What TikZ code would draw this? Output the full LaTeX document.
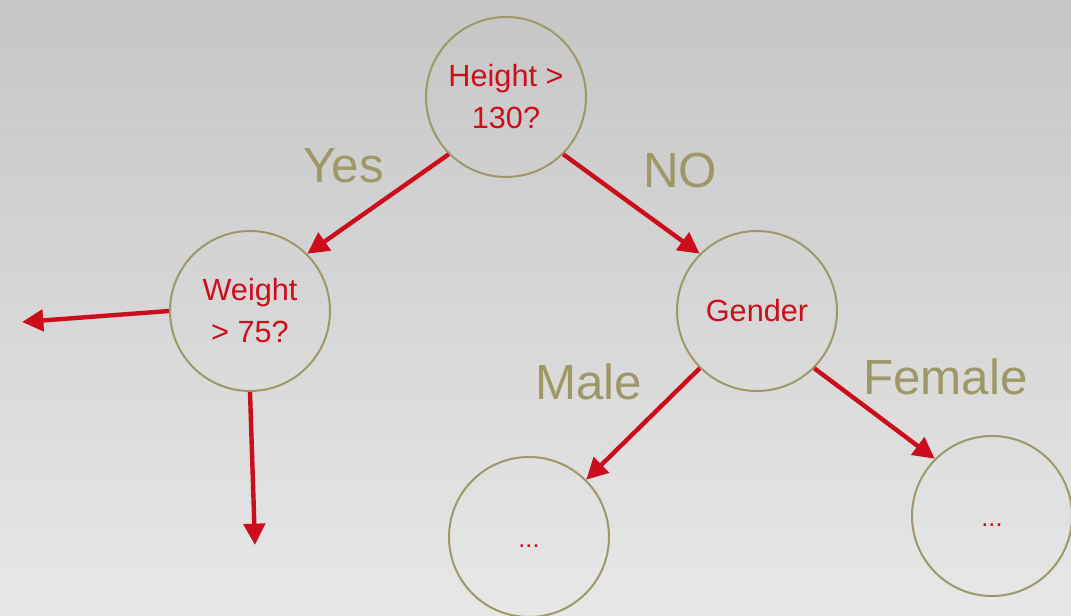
\documentclass[tikz,border=0pt]{standalone}
\usepackage{fontspec}
\setmainfont{Liberation Sans}
\usetikzlibrary{arrows.meta}
\definecolor{bgtop}{RGB}{198,198,198}
\definecolor{bgbot}{RGB}{231,231,231}
\definecolor{olive}{RGB}{158,152,105}
\definecolor{dred}{RGB}{204,14,28}
\tikzset{
  decision/.style={circle, draw=olive, line width=1.5pt, minimum size=120pt, inner sep=0pt,
    text=dred, align=center, font=\fontsize{23}{31.5}\selectfont},
  leafnode/.style={decision, font=\fontsize{19}{20}\selectfont, text height=15pt, text depth=0pt},
  branch/.style={draw=dred, line width=3.3pt, -{Triangle[length=16pt,width=16pt]}},
  edgelabel/.style={anchor=base west, inner sep=0pt, text=olive, font=\fontsize{37}{40}\selectfont}
}
\begin{document}
\begin{tikzpicture}[x=0.75pt,y=0.75pt]
\shade[top color=bgtop, bottom color=bgbot] (0,0) rectangle (1071,615);
\useasboundingbox (0,0) rectangle (1071,615);
\node[decision] (root) at (506,518) {Height >\\130?};
\node[decision] (weight) at (250,304) {Weight\\> 75?};
\node[decision] (gender) at (757,304) {Gender};
\node[leafnode] (male) at (529,78) {...};
\node[leafnode] (female) at (992,99) {...};
\coordinate (wleft) at (22,293);
\coordinate (wdown) at (255,70);
\draw[branch] (root.225) -- (weight.45);
\draw[branch] (root.315) -- (gender.135);
\draw[branch] (weight.180) -- (wleft);
\draw[branch] (weight.270) -- (wdown);
\draw[branch] (gender.225) -- (male.45);
\draw[branch] (gender.315) -- (female.135);
\node[edgelabel] (lyes) at (303,432) {Yes};
\node[edgelabel] (lno) at (643,427) {NO};
\node[edgelabel] (lmale) at (535,216) {Male};
\node[edgelabel] (lfemale) at (863,221) {Female};
\end{tikzpicture}
\end{document}
